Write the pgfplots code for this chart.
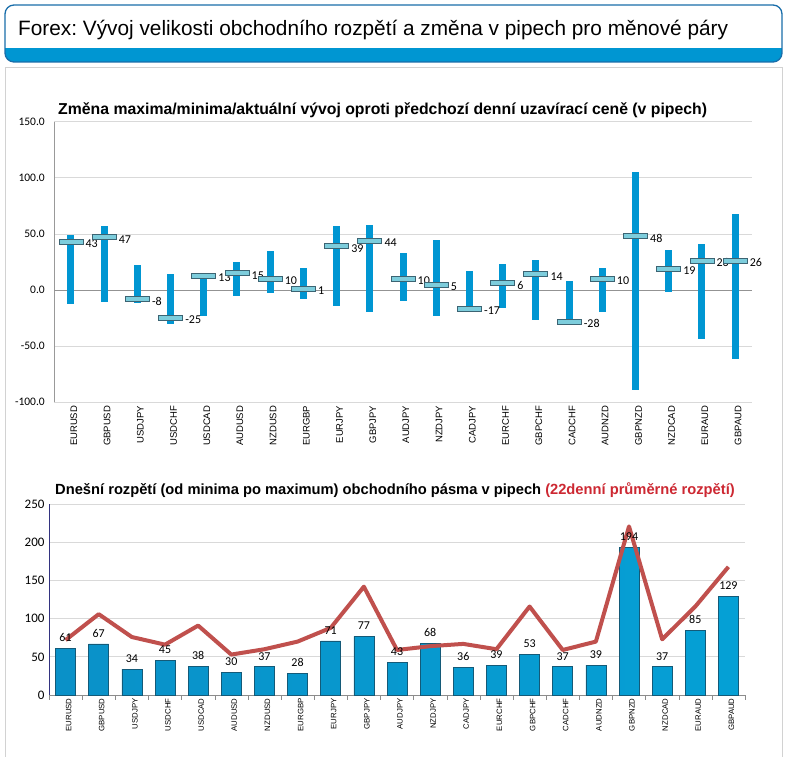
\documentclass[border=0pt]{standalone}
\usepackage{fontspec}
\setmainfont{Liberation Sans}
\newfontfamily\numfont{Carlito}
\usepackage{pgfplots}
\usepackage{pgfplotstable}
\pgfplotsset{compat=1.18}
\frenchspacing

\definecolor{hdrblue}{RGB}{0,150,210}
\definecolor{hdrline}{RGB}{25,110,170}
\definecolor{rangeblue}{RGB}{0,150,210}
\definecolor{mkfill}{RGB}{125,205,220}
\definecolor{mkdraw}{RGB}{60,100,115}
\definecolor{barL}{RGB}{10,145,200}
\definecolor{barM}{RGB}{35,182,232}
\definecolor{barR}{RGB}{5,160,213}
\definecolor{bardark}{RGB}{20,90,120}
\definecolor{avgred}{RGB}{192,80,77}
\definecolor{titlered}{RGB}{205,40,50}
\definecolor{gridgray}{RGB}{217,217,217}
\definecolor{panelgray}{RGB}{210,210,210}

% x, low, high, current change (pips)
\pgfplotstableread{
x lo hi cur
0 -12.5 49 43
1 -10.7 57 47
2 -11.6 22.6 -8
3 -30.4 14.6 -25
4 -23.2 14 13
5 -5.4 25 15
6 -2.7 34.8 10
7 -8 19.6 1
8 -14.3 57 39
9 -19.6 58 44
10 -9.8 33 10
11 -23.2 44.6 5
12 -17.5 17 -17
13 -16 23.2 6
14 -26.8 26.8 14
15 -28 8 -28
16 -19.6 19.6 10
17 -89.3 104.8 48
18 -2 35.7 19
19 -43.8 41 26
20 -61.6 67.9 26
}\changedata

% x, today's range, 22-day average range
\pgfplotstableread{
x range avg
0 61 72
1 67 106
2 34 76
3 45 66
4 38 91
5 30 53
6 37 60
7 28 70
8 71 88
9 77 142
10 43 59
11 68 64
12 36 67
13 39 60
14 53 116
15 37 59
16 39 70
17 194 221
18 37 73
19 85 116
20 129 168
}\rangedata

\pgfdeclareplotmark{hbar}{%
  \pgfpathrectangle{\pgfpoint{-12bp}{-2.5bp}}{\pgfpoint{24bp}{5bp}}%
  \pgfusepathqfillstroke}

\def\pairs{EURUSD,GBPUSD,USDJPY,USDCHF,USDCAD,AUDUSD,NZDUSD,EURGBP,EURJPY,GBPJPY,AUDJPY,NZDJPY,CADJPY,EURCHF,GBPCHF,CADCHF,AUDNZD,GBPNZD,NZDCAD,EURAUD,GBPAUD}

\begin{document}
\begin{tikzpicture}[x=1bp,y=1bp]
\fill[white] (0,0) rectangle (787,757);

% header box
\begin{scope}
  \clip[rounded corners=9bp] (5,695) rectangle (782,752);
  \fill[white] (5,695) rectangle (782,752);
  \fill[hdrblue] (5,695) rectangle (782,709);
\end{scope}
\draw[hdrline, line width=1.3bp, rounded corners=9bp] (5,695) rectangle (782,752);
\node[anchor=base west, inner sep=0pt] at (18,721)
  {\fontsize{20.8bp}{24bp}\selectfont Forex: Vývoj velikosti obchodního rozpětí a změna v pipech pro měnové páry};

% panel
\draw[panelgray, line width=1bp] (5,0) -- (5,689) -- (782,689) -- (782,0);

% titles
\node[anchor=base west, inner sep=0pt] at (58,642)
  {\fontsize{15.8bp}{18bp}\bfseries Změna maxima/minima/aktuální vývoj oproti předchozí denní uzavírací ceně (v pipech)};
\node[anchor=base west, inner sep=0pt] at (55,262)
  {\fontsize{14.7bp}{18bp}\bfseries Dnešní rozpětí (od minima po maximum) obchodního pásma v pipech \textcolor{titlered}{(22denní průměrné rozpětí)}};

% top chart
\begin{axis}[
  at={(54.3bp,354.7bp)}, anchor=south west,
  scale only axis, width=697.4bp, height=280.6bp,
  xmin=-0.5, xmax=20.5, ymin=-100, ymax=150,
  ytick={-100,-50,0,50,100,150},
  xtick={0,...,20}, xticklabels/.expand once=\pairs,
  major tick length=0pt,
  axis lines*=left,
  x axis line style={draw=gridgray},
  y axis line style={draw=gray!80},
  ymajorgrids, grid style={gridgray, line width=0.8bp},
  extra y ticks={0}, extra y tick labels={},
  extra y tick style={grid style={gray!85, line width=0.9bp}},
  /pgf/number format/assume math mode=true,
  yticklabel style={font=\fontsize{11.5bp}{13bp}\numfont, xshift=-6bp,
    /pgf/number format/.cd, fixed, fixed zerofill, precision=1},
  xticklabel style={font=\fontsize{9.5bp}{11bp}\selectfont, rotate=90, anchor=east, yshift=-3bp},
  clip=false,
]
\addplot[draw=none, mark=none,
  error bars/.cd, y dir=both, y explicit, error mark=none,
  error bar style={line width=7bp, rangeblue}]
  table[x=x, y=cur, y error plus expr=\thisrow{hi}-\thisrow{cur},
        y error minus expr=\thisrow{cur}-\thisrow{lo}] {\changedata};
\addplot[only marks, mark=hbar,
  mark options={fill=mkfill, draw=mkdraw, line width=0.8bp},
  nodes near coords={\pgfmathprintnumber[fixed,precision=0]{\pgfplotspointmeta}},
  every node near coord/.append style={anchor=west, xshift=11bp, yshift=-2bp,
    font=\fontsize{12bp}{14bp}\numfont, text=black}]
  table[x=x, y=cur] {\changedata};
\end{axis}

% bottom chart
\begin{axis}[
  at={(49bp,62bp)}, anchor=south west,
  scale only axis, width=696bp, height=190.7bp,
  xmin=-0.5, xmax=20.5, ymin=0, ymax=250,
  ytick={0,50,...,250},
  xtick={0,...,20}, xticklabels/.expand once=\pairs,
  minor xtick={-0.5,0.5,...,20.5},
  major tick length=0pt, minor tick length=5bp,
  tick align=outside,
  axis lines*=left,
  x axis line style={draw=gray!90},
  y axis line style={draw=black!50!blue!60!gray},
  minor tick style={gray!90},
  ymajorgrids, grid style={gridgray, line width=0.8bp},
  /pgf/number format/assume math mode=true,
  yticklabel style={font=\fontsize{13bp}{15bp}\numfont, xshift=-1bp},
  xticklabel style={font=\fontsize{7.8bp}{9bp}\selectfont, rotate=90, anchor=east, yshift=-3bp},
  clip=false,
]
\addplot[ybar, bar width=20bp, draw=bardark, line width=0.6bp,
  left color=barL, middle color=barM, right color=barR,
  nodes near coords,
  every node near coord/.append style={font=\fontsize{12bp}{14bp}\numfont, text=black, yshift=3bp}]
  table[x=x, y=range] {\rangedata};
\addplot[sharp plot, mark=none, avgred, line width=4bp, line join=round]
  table[x=x, y=avg] {\rangedata};
\end{axis}
\end{tikzpicture}
\end{document}
